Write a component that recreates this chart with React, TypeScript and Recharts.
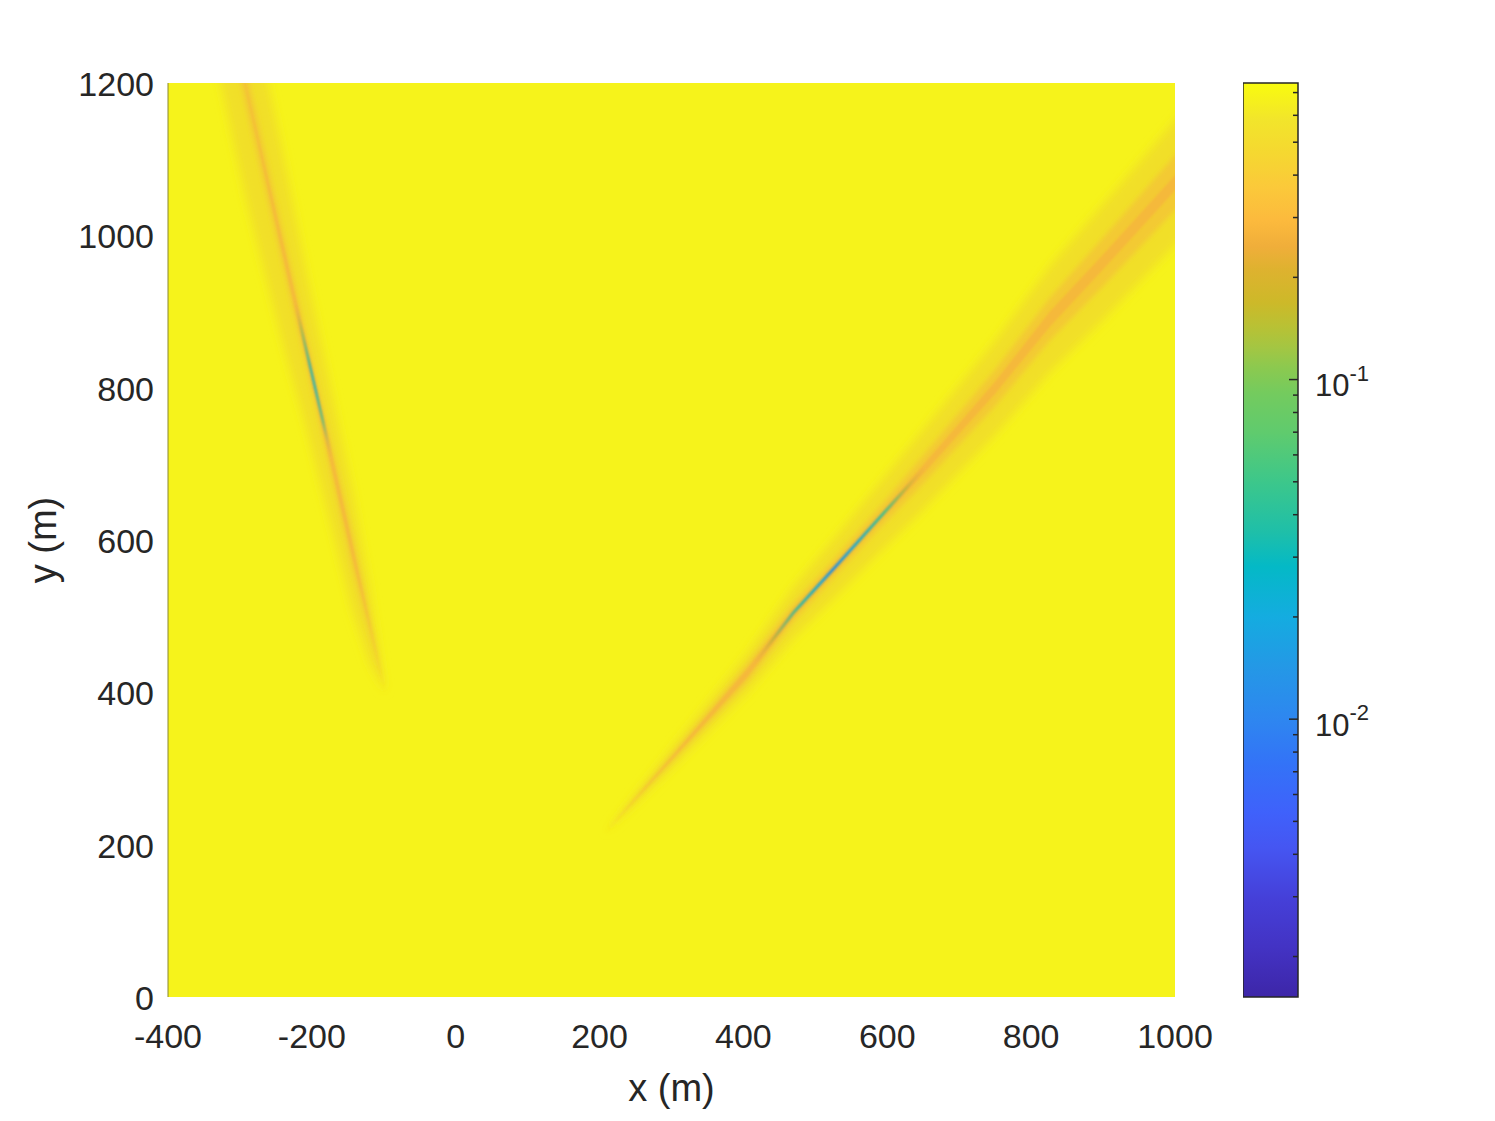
import React from "react";
import {
  ComposedChart,
  Area,
  Line,
  XAxis,
  YAxis,
  CartesianGrid,
  ReferenceArea,
  Label,
} from "recharts";

const FONT = "'Liberation Sans', Arial, Helvetica, sans-serif";
const INK = "#262626";

const xTicks = [-400, -200, 0, 200, 400, 600, 800, 1000];
const yTicks = [0, 200, 400, 600, 800, 1000, 1200];

// left streak (steep one), centre line, half-thicknesses in y units
const leftX = [-330, -293, -240, -208, -176, -144, -120, -98];
const leftY = [1361, 1200, 981, 850, 719, 587, 490, 399];
const leftHalo = [148, 148, 126, 103, 91, 80, 51, 0];
const leftGlow = [26, 26, 23, 20, 20, 23, 11, 0];
const leftCore = [0, 3, 9, 11, 11, 9, 3, 0];

// right streak
const rightX = [207, 300, 405, 469, 530, 590, 641, 750, 826, 900, 1000, 1040];
const rightY = [215, 313, 425, 504, 567, 630, 683, 800, 890, 965, 1069, 1112];
const rightHalo = [0, 14, 26, 34, 40, 46, 52, 62, 70, 76, 82, 84];
const rightGlow = [0, 5, 12, 12, 12, 14, 18, 24, 28, 32, 36, 37];
const rightCore = [0, 2, 6, 5, 5, 5, 6, 8, 10, 10, 10, 10];

// low-value (green / cyan / blue) cores
const leftLowX = [-224, -198, -172];
const leftLowY = [915, 810, 705];
const rightLowX = [413, 469, 530, 590, 655];
const rightLowY = [435, 504, 567, 630, 698];

// colorbar
const cbMin = 0.00152;
const cbMax = 0.747;
const cbTicks = [
  0.002, 0.003, 0.004, 0.005, 0.006, 0.007, 0.008, 0.009, 0.01,
  0.02, 0.03, 0.04, 0.05, 0.06, 0.07, 0.08, 0.09, 0.1,
  0.2, 0.3, 0.4, 0.5, 0.6, 0.7,
];
const parula = [
  [0, "#f9fb0e"], [0.04, "#f2e52b"], [0.076, "#f5d830"], [0.114, "#fbc93a"],
  [0.15, "#fcba3d"], [0.179, "#f0ae3a"], [0.204, "#deb22f"], [0.24, "#cdb929"],
  [0.266, "#b9c134"], [0.29, "#a3c643"], [0.311, "#8cc94f"], [0.339, "#74cb5e"],
  [0.383, "#5fcb6e"], [0.437, "#3cc78b"], [0.492, "#1ebfa9"], [0.529, "#04b9c6"],
  [0.584, "#14ace0"], [0.639, "#2498e6"], [0.697, "#2e86f0"], [0.744, "#3373f7"],
  [0.799, "#3f61fb"], [0.836, "#4556f2"], [0.891, "#4540d9"], [0.945, "#4333c4"],
  [1, "#3d26a8"],
];

const band = (c: number, h: number) => [c - h, c + h];

const rows = [
  ...leftX.map((x, i) => ({
    x,
    halo: band(leftY[i], leftHalo[i]),
    glow: band(leftY[i], leftGlow[i]),
    core: band(leftY[i], leftCore[i]),
  })),
  ...rightX.map((x, i) => ({
    x,
    halo: band(rightY[i], rightHalo[i]),
    glow: band(rightY[i], rightGlow[i]),
    core: band(rightY[i], rightCore[i]),
  })),
];

const toPts = (xs: number[], ys: number[]) => xs.map((x, i) => ({ x, y: ys[i] }));

const XTick = ({ x, y, payload }: any) => (
  <text x={x} y={y + 39} textAnchor="middle" dominantBaseline="central"
    fontFamily={FONT} fontSize={34} fill={INK}>{payload.value}</text>
);

const YTick = ({ x, y, payload }: any) => (
  <text x={x - 14} y={y + 1} textAnchor="end" dominantBaseline="central"
    fontFamily={FONT} fontSize={34} fill={INK}>{payload.value}</text>
);

const CbTick = ({ x, y, payload }: any) => {
  const lg = Math.log10(payload.value);
  const major = Math.abs(lg - Math.round(lg)) < 1e-6;
  return (
    <g>
      <line x1={x - (major ? 9 : 5)} x2={x} y1={y} y2={y} stroke={INK} strokeWidth={1.5} />
      {major && (
        <text x={x + 17} y={y + 6} dominantBaseline="central" fontFamily={FONT} fontSize={31} fill={INK}>
          10<tspan dy={-13} fontSize={22}>{String(Math.round(lg))}</tspan>
        </text>
      )}
    </g>
  );
};

export default function App() {
  return (
    <div style={{ position: "relative", width: 1479, height: 1105 }}>
      <div style={{ position: "absolute", left: 0, top: 0 }}>
        <ComposedChart width={1240} height={1105} data={rows}
          margin={{ top: 75, right: 73, bottom: 6, left: 0 }}>
          <defs>
            <filter id="blurHalo" x="-30%" y="-30%" width="160%" height="160%">
              <feGaussianBlur stdDeviation={5} />
            </filter>
            <filter id="blurGlow" x="-30%" y="-30%" width="160%" height="160%">
              <feGaussianBlur stdDeviation={2.5} />
            </filter>
            <filter id="blurCore" x="-30%" y="-30%" width="160%" height="160%">
              <feGaussianBlur stdDeviation={1} />
            </filter>
            <linearGradient id="lowLeft" x1="0" y1="0" x2="1" y2="1">
              <stop offset="0" stopColor="#f2ad3e" stopOpacity={0} />
              <stop offset="0.18" stopColor="#a9bf45" />
              <stop offset="0.4" stopColor="#2cb8a2" />
              <stop offset="0.55" stopColor="#1fb5b6" />
              <stop offset="0.75" stopColor="#5cbf7a" />
              <stop offset="1" stopColor="#f2ad3e" stopOpacity={0} />
            </linearGradient>
            <linearGradient id="lowRight" x1="0" y1="1" x2="1" y2="0">
              <stop offset="0" stopColor="#f2ad3e" stopOpacity={0} />
              <stop offset="0.12" stopColor="#c8b236" />
              <stop offset="0.28" stopColor="#35b99c" />
              <stop offset="0.4" stopColor="#14a9d6" />
              <stop offset="0.47" stopColor="#1e8fe2" />
              <stop offset="0.58" stopColor="#1aa8d4" />
              <stop offset="0.75" stopColor="#3cbf8e" />
              <stop offset="0.88" stopColor="#c0b63a" />
              <stop offset="1" stopColor="#f2ad3e" stopOpacity={0} />
            </linearGradient>
          </defs>
          <CartesianGrid fill="#f6f31b" horizontal={false} vertical={false} stroke="none" />
          <XAxis type="number" dataKey="x" domain={[-400, 1000]} ticks={xTicks} interval={0}
            allowDataOverflow axisLine={false} tickLine={false} tickSize={0} tickMargin={0}
            height={110} tick={<XTick />}>
            <Label content={({ viewBox }: any) => (
              <text x={viewBox.x + viewBox.width / 2} y={viewBox.y + 91} textAnchor="middle"
                dominantBaseline="central" fontFamily={FONT} fontSize={38} fill={INK}>x (m)</text>
            )} />
          </XAxis>
          <YAxis type="number" domain={[0, 1200]} ticks={yTicks} interval={0} allowDataOverflow
            axisLine={{ stroke: "#8a8830", strokeWidth: 1 }} tickLine={false} tickSize={0} tickMargin={0}
            width={160} tick={<YTick />}>
            <Label content={({ viewBox }: any) => {
              const cx = viewBox.x + 35;
              const cy = viewBox.y + viewBox.height / 2;
              return (
                <text x={cx} y={cy} textAnchor="middle" dominantBaseline="central"
                  transform={`rotate(-90 ${cx} ${cy})`} fontFamily={FONT} fontSize={38} fill={INK}>y (m)</text>
              );
            }} />
          </YAxis>
          <Area dataKey="halo" type="linear" stroke="none" fill="#f0dc2a" fillOpacity={0.85}
            filter="url(#blurHalo)" isAnimationActive={false} activeDot={false} />
          <Area dataKey="glow" type="linear" stroke="none" fill="#f3c834" fillOpacity={0.9}
            filter="url(#blurGlow)" isAnimationActive={false} activeDot={false} />
          <Area dataKey="core" type="linear" stroke="none" fill="#f6ae40"
            filter="url(#blurCore)" isAnimationActive={false} activeDot={false} />
          <Line data={toPts(leftLowX, leftLowY)} dataKey="y" type="linear" stroke="url(#lowLeft)"
            strokeWidth={2.2} dot={false} filter="url(#blurCore)" isAnimationActive={false} />
          <Line data={toPts(rightLowX, rightLowY)} dataKey="y" type="linear" stroke="url(#lowRight)"
            strokeWidth={2.8} dot={false} filter="url(#blurCore)" isAnimationActive={false} />
        </ComposedChart>
      </div>
      <div style={{ position: "absolute", left: 1235, top: 0 }}>
        <ComposedChart width={195} height={1105} data={cbTicks.map((t) => ({ t }))}
          margin={{ top: 75, right: 0, bottom: 116, left: 0 }}>
          <defs>
            <linearGradient id="parula" x1="0" y1="0" x2="0" y2="1">
              {parula.map(([o, c]) => (
                <stop key={String(o)} offset={o as number} stopColor={c as string} />
              ))}
            </linearGradient>
          </defs>
          <CartesianGrid fill="url(#parula)" horizontal={false} vertical={false} stroke="none" />
          <XAxis hide type="number" domain={[0, 1]} />
          <YAxis orientation="right" scale="log" type="number" domain={[cbMin, cbMax]} allowDataOverflow
            ticks={cbTicks} interval={0} axisLine={false} tickLine={false} tickSize={0} tickMargin={0}
            width={140} tick={<CbTick />} />
          <ReferenceArea y1={cbMin} y2={cbMax} fill="none" fillOpacity={0} stroke={INK} strokeWidth={1.5}
            ifOverflow="visible" />
        </ComposedChart>
      </div>
    </div>
  );
}
